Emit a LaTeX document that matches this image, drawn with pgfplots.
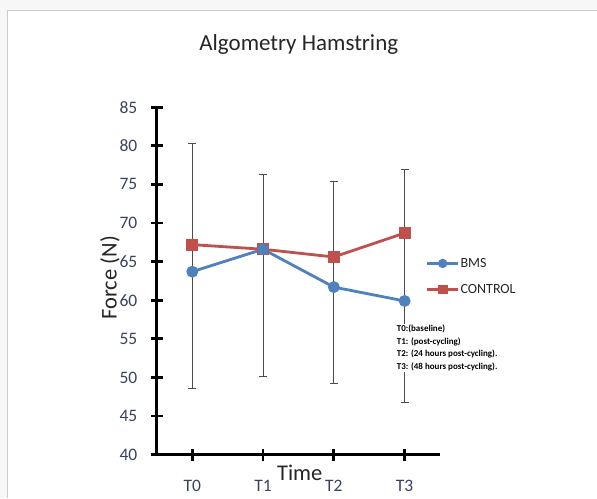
\documentclass[border=0pt]{standalone}
\usepackage{pgfplots}
\pgfplotsset{compat=1.18}
\usepackage{fontspec}
\setmainfont{Carlito}
\definecolor{bmsblue}{HTML}{4F81BD}
\definecolor{ctrlred}{HTML}{C0504D}
\definecolor{txt}{HTML}{262626}
\definecolor{ticktxt}{HTML}{3A4260}
\begin{document}
\begin{tikzpicture}[x=1pt,y=1pt]
\fill[black!3] (0,0) rectangle (597,498);
\fill[white] (8,0) rectangle (597,487);
\draw[black!20, line width=1pt] (8,0) -- (8,487) -- (597,487);
\path[use as bounding box] (0,0) rectangle (597,498);
\begin{axis}[
  at={(157pt,43pt)}, anchor=south west,
  scale only axis, width=283.4pt, height=347.7pt,
  xmin=-0.5, xmax=3.5, ymin=40, ymax=85,
  axis lines=left, axis line style={-, line width=2.8pt, black},
  xtick={0,1,2,3}, xticklabels={T0,T1,T2,T3},
  ytick={40,45,...,85},
  tick align=center, major tick length=12pt,
  tick style={line width=2.8pt, black},
  /pgf/number format/assume math mode=true,
  tick label style={font=\fontsize{17.5}{20}\selectfont, text=ticktxt},
  xticklabel style={yshift=-16pt},
  yticklabel style={xshift=-10pt},
  clip=false,
  legend style={at={(0.949,0.569)}, anchor=north west, draw=none, fill=none,
    inner sep=0pt, font=\fontsize{14}{16}\selectfont, text=txt,
    row sep=13.5pt, legend cell align=left, nodes={inner sep=1pt}},
  legend image code/.code={\draw[#1, mark repeat=2, mark phase=2] plot coordinates {(0pt,0pt)(15.5pt,0pt)(31pt,0pt)};},
]
\addlegendimage{bmsblue, line width=2.8pt, mark=*, mark size=3.2pt}
\addlegendentry{BMS}
\addlegendimage{ctrlred, line width=2.8pt, mark=square*, mark size=3.5pt}
\addlegendentry{CONTROL}
% error bars (drawn first, behind the lines)
\addplot[draw=none, mark=none, forget plot,
  error bars/.cd, y dir=both, y explicit,
  error bar style={draw=black!70, line width=0.9pt},
  error mark options={rotate=90, mark size=4pt, line width=0.9pt, draw=black!70}]
  coordinates {
  (0,63.7) += (0,16.6) -= (0,15.1)
  (1,66.6) += (0,9.7)  -= (0,16.5)
  (2,61.7) += (0,13.7) -= (0,12.5)
  (3,59.9) += (0,17.1) -= (0,13.2)
  };
\addplot[ctrlred, line width=2.8pt, mark=square*, mark size=4.5pt, forget plot]
  coordinates {(0,67.2)(1,66.6)(2,65.6)(3,68.7)};
\addplot[bmsblue, line width=2.8pt, mark=*, mark size=4.5pt, forget plot]
  coordinates {(0,63.7)(1,66.6)(2,61.7)(3,59.9)};
\end{axis}
\node[font=\fontsize{23}{27}\selectfont, text=txt] at (299,453) {Algometry Hamstring};
\node[rotate=90, font=\fontsize{22.5}{26}\selectfont, text=txt] at (110,220) {Force (N)};
\node[font=\fontsize{22.5}{26}\selectfont, text=txt] at (300,25) {Time};
\node[anchor=north west, fill=white, inner sep=1pt, align=left,
  font=\fontsize{9}{12.7}\selectfont\bfseries] at (396,174)
  {T0:(baseline)\\T1: (post-cycling)\\T2: (24 hours post-cycling).\\T3: (48 hours post-cycling).};
\end{tikzpicture}
\end{document}
